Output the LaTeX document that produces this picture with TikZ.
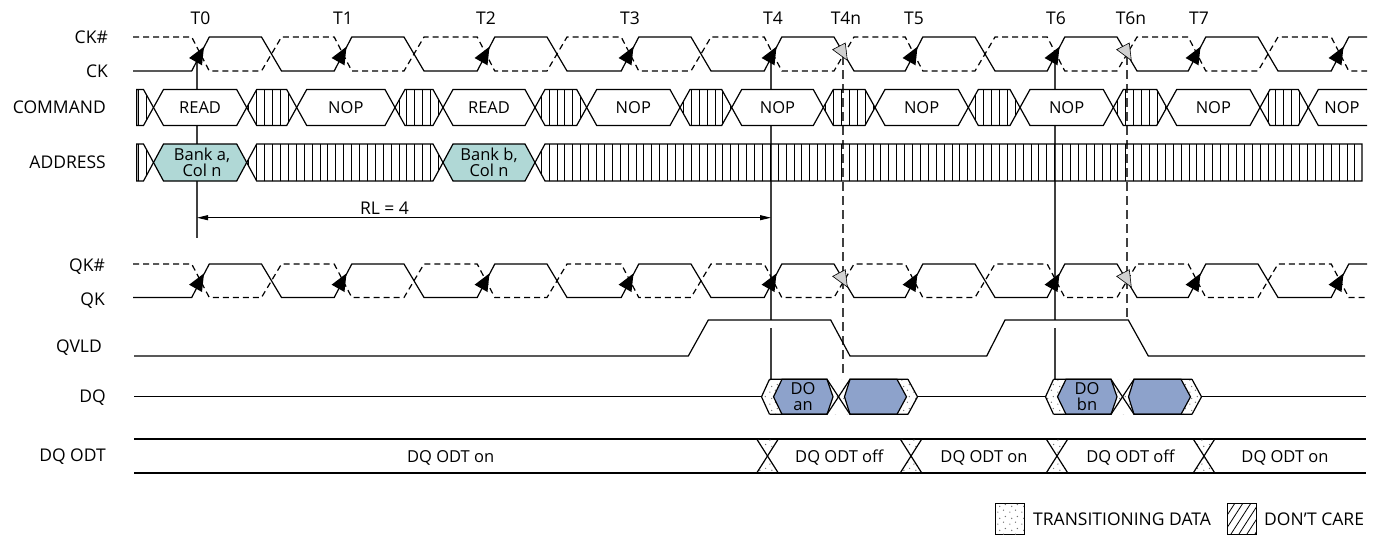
\documentclass[tikz,border=0pt]{standalone}
\usepackage{fontspec}
\setmainfont{Open Sans}
\usetikzlibrary{patterns.meta,arrows.meta}

\tikzdeclarepattern{
  name=vlines, type=uncolored,
  bottom left={(0pt,-1pt)}, top right={(8pt,9pt)},
  tile size={(7.9pt,8pt)},
  code={\draw[line width=0.9pt] (4pt,-1pt) -- (4pt,9pt);}
}
\tikzdeclarepattern{
  name=stipple, type=uncolored,
  bottom left={(0pt,0pt)}, top right={(12pt,12pt)},
  tile size={(12pt,12pt)},
  code={\fill (2pt,2pt) circle (0.75pt); \fill (8pt,4pt) circle (0.75pt);
        \fill (4pt,8pt) circle (0.75pt); \fill (10pt,10pt) circle (0.75pt);}
}

\definecolor{tealbox}{RGB}{176,216,214}
\definecolor{bluebox}{RGB}{141,162,203}

\newcommand\hexseg[5]{%
  \path[#5] (#1,{(#3+#4)/2}) -- ({#1+10},#3) -- ({#2-10},#3) -- (#2,{(#3+#4)/2}) -- ({#2-10},#4) -- ({#1+10},#4) -- cycle;}

\newcommand\clk[2]{%
  \draw[sig] (133,#2) \foreach \e in {200.5,343,486,630,773,914,1056,1197}{ -- ({\e-8.8},#2) -- ({\e+8.8},#1) -- ({\e+61},#1) -- ({\e+81},#2) } -- (1331.2,#2) -- (1348.8,#1) -- (1367,#1);
  \draw[dsig] (133,#1) \foreach \e in {200.5,343,486,630,773,914,1056,1197}{ -- ({\e-8.8},#1) -- ({\e+8.8},#2) -- ({\e+61},#2) -- ({\e+81},#1) } -- (1331.2,#1) -- (1348.8,#2) -- (1367,#2);
}
\newcommand\clkarrows[1]{%
  \foreach \e in {200.5,343,486,630,773,914,1056,1197,1340}{%
    \fill ({\e+3.5},{#1-7.3}) -- ({\e-11.4},{#1+4}) -- ({\e+1.5},{#1+11.3}) -- cycle;}
  \foreach \f in {843,1127}{%
    \filldraw[fill=black!18,line width=0.6pt] ({\f-10.3},{#1-4.4}) -- ({\f+2.3},{#1-11}) -- ({\f+4.3},{#1+6.3}) -- cycle;}
}
\newcommand\dqburst[3]{% #1 T, #2 name, #3 text
  \path[stipfill] ({#1-9.5},396.8) -- ({#1-1.5},379.3) -- ({#1+137},379.3) -- ({#1+146.5},396.8) -- ({#1+137},414.3) -- ({#1-1.5},414.3) -- cycle;
  \fill[white] ({#1+56},379.3) -- ({#1+79},379.3) -- ({#1+67.5},396.8) -- cycle;
  \fill[white] ({#1+56},414.3) -- ({#1+79},414.3) -- ({#1+67.5},396.8) -- cycle;
  \filldraw[fill=bluebox, sig] ({#1+2.5},396.8) -- ({#1+11},379.3) -- ({#1+56},379.3) -- ({#1+62},396.8) -- ({#1+56},414.3) -- ({#1+11},414.3) -- cycle;
  \filldraw[fill=bluebox, sig] ({#1+73.5},396.8) -- ({#1+79},379.3) -- ({#1+126},379.3) -- ({#1+135.5},396.8) -- ({#1+126},414.3) -- ({#1+79},414.3) -- cycle;
  \draw[sig] ({#1-1.5},379.3) -- ({#1-9.5},396.8) -- ({#1-1.5},414.3);
  \draw[sig] ({#1-1.5},379.3) -- ({#1+56},379.3) -- ({#1+79},414.3) -- ({#1+137},414.3);
  \draw[sig] ({#1-1.5},414.3) -- ({#1+56},414.3) -- ({#1+79},379.3) -- ({#1+137},379.3);
  \draw[sig] ({#1+137},379.3) -- ({#1+146.5},396.8) -- ({#1+137},414.3);
  \node[bl] (#2) at ({#1+32},396.8) {DO\\#3};
}

\begin{document}
\begin{tikzpicture}[x=1pt,y=-1pt,
  sig/.style={line width=1.2pt},
  dsig/.style={line width=1.2pt, dash pattern=on 6pt off 4pt},
  lbl/.style={font=\fontsize{17.5}{17.5}\selectfont, anchor=base east, inner sep=0pt},
  tl/.style={font=\fontsize{17.5}{17.5}\selectfont, anchor=base, inner sep=0pt},
  bl/.style={font=\fontsize{16.5}{16}\selectfont, inner sep=0pt, align=center},
  tline/.style={line width=1.1pt, draw=black!75},
  dtline/.style={tline, dash pattern=on 9pt off 5pt},
  hatchfill/.style={pattern=vlines, pattern color=black},
  stipfill/.style={fill=white, postaction={pattern=stipple, pattern color=black!55}},
]
\useasboundingbox (0,0) rectangle (1374,538);

% signal names
\node[lbl] (lckn) at (108,43) {CK\#};
\node[lbl] (lck) at (108,77) {CK};
\node[lbl] (lcmd) at (106,113.5) {COMMAND};
\node[lbl] (ladr) at (106,168.5) {ADDRESS};
\node[lbl] (lqkn) at (105,271) {QK\#};
\node[lbl] (lqk) at (105,305) {QK};
\node[lbl] (lqv) at (102,352) {QVLD};
\node[lbl] (ldq) at (106,402) {DQ};
\node[lbl] (lodt) at (106,461) {DQ ODT};

% time labels
\foreach \x/\t in {200.5/T0,343/T1,486/T2,630/T3,773/T4,846/T4n,914/T5,1056/T6,1131/T6n,1199/T7}
  \node[tl] (t\t) at (\x,24.5) {\t};

% reference lines
\draw[tline] (197,56) -- (197,237.7);
\draw[tline] (771,52) -- (771,320);
\draw[tline] (771,328) -- (771,379.3);
\draw[tline] (1055,52) -- (1055,320);
\draw[tline] (1055,328) -- (1055,379.3);
\draw[dtline] (843,56) -- (843,377);
\draw[dtline] (1127,56) -- (1127,320);

% clocks
\clk{37}{71}
\clk{264}{297.5}

% COMMAND
\path[sig,draw,hatchfill] (136.7,89.5) -- (143.5,89.5) -- (153.5,107.5) -- (143.5,125.5) -- (136.7,125.5) -- cycle;
\foreach \l/\r in {246.7/296.7,395/443,535/586.7,680/731.7,823.3/875,968.3/1020,1113.3/1166.7,1260/1308.3}
  \hexseg{\l}{\r}{89.5}{125.5}{sig,draw,hatchfill};
\foreach \l/\r/\t [count=\i] in {153.5/246.7/READ,296.7/395/NOP,443/535/READ,586.7/680/NOP,731.7/823.3/NOP,875/968.3/NOP,1020/1113.3/NOP,1166.7/1260/NOP}{
  \hexseg{\l}{\r}{89.5}{125.5}{sig,draw,fill=white}
  \node[bl,anchor=base] (cmd\i) at ({(\l+\r)/2},113.5) {\t};
}
\fill[white] (1308.3,107.5) -- (1318.3,89.5) -- (1367,89.5) -- (1367,125.5) -- (1318.3,125.5) -- cycle;
\draw[sig] (1367,89.5) -- (1318.3,89.5) -- (1308.3,107.5) -- (1318.3,125.5) -- (1367,125.5);
\node[bl,anchor=base] (cmd9) at (1342,113.5) {NOP};

% ADDRESS
\path[sig,draw,hatchfill] (136.7,144) -- (143.5,144) -- (153.5,162.5) -- (143.5,181) -- (136.7,181) -- cycle;
\hexseg{246.7}{443}{144}{181}{sig,draw,hatchfill}
\path[sig,draw,hatchfill] (535,162.5) -- (545,144) -- (1362,144) -- (1362,181) -- (545,181) -- cycle;
\hexseg{153.5}{246.7}{144}{181}{sig,draw,fill=tealbox}
\hexseg{443}{535}{144}{181}{sig,draw,fill=tealbox}
\node[bl,font=\fontsize{16.5}{14}\selectfont] (adra) at (202,162.5) {Bank a,\\Col n};
\node[bl,font=\fontsize{16.5}{14}\selectfont] (adrb) at (489,162.5) {Bank b,\\Col n};

% RL = 4
\coordinate (rlL) at (197,217.7);
\coordinate (rlR) at (771,217.7);
\draw[line width=0.9pt,{Triangle[length=11pt,width=5pt]}-{Triangle[length=11pt,width=5pt]}] (rlL) -- (rlR);
\node[tl] (rl) at (384.5,214) {RL = 4};

% clock arrows
\clkarrows{54}
\clkarrows{280.7}

% QVLD
\draw[sig] (134,356) -- (688.3,356) -- (708.3,320) -- (830.7,320) -- (850,356) -- (986.7,356) -- (1005,320) -- (1128.3,320) -- (1148.3,356) -- (1365,356);

% DQ
\draw[sig] (134,396.8) -- (761.5,396.8);
\draw[sig] (917.5,396.8) -- (1045.5,396.8);
\draw[sig] (1201.5,396.8) -- (1366,396.8);
\dqburst{771}{dqa}{an}
\dqburst{1055}{dqb}{bn}

% DQ ODT
\draw[sig] (134,439) -- (1366,439);
\draw[sig] (134,473) -- (1366,473);
\foreach \c in {767.5,911,1057,1204}{
  \path[pattern=stipple, pattern color=black!55] ({\c-10.8},439) -- ({\c+10.8},439) -- (\c,456) -- cycle;
  \path[pattern=stipple, pattern color=black!55] ({\c-10.8},473) -- ({\c+10.8},473) -- (\c,456) -- cycle;
  \draw[sig] ({\c-10.8},439) -- ({\c+10.8},473);
  \draw[sig] ({\c+10.8},439) -- ({\c-10.8},473);
}
\foreach \x/\t [count=\i] in {450.7/DQ ODT on,839.3/DQ ODT off,984/DQ ODT on,1130.5/DQ ODT off,1285/DQ ODT on}
  \node[bl,anchor=base] (odt\i) at (\x,462) {\t};

% legend
\path[draw,line width=0.8pt,stipfill] (995,503) rectangle (1024,534);
\node[lbl,anchor=base west] (legt) at (1033,525) {TRANSITIONING DATA};
\begin{scope}
  \clip (1227,503) rectangle (1256,534);
  \foreach \i in {0,...,7} \draw[line width=0.8pt] ({1207+\i*8},534) -- ({1227+\i*8},503);
\end{scope}
\draw[line width=0.8pt] (1227,503) rectangle (1256,534);
\node[lbl,anchor=base west] (legd) at (1264,525) {DON’T CARE};
\end{tikzpicture}
\end{document}
